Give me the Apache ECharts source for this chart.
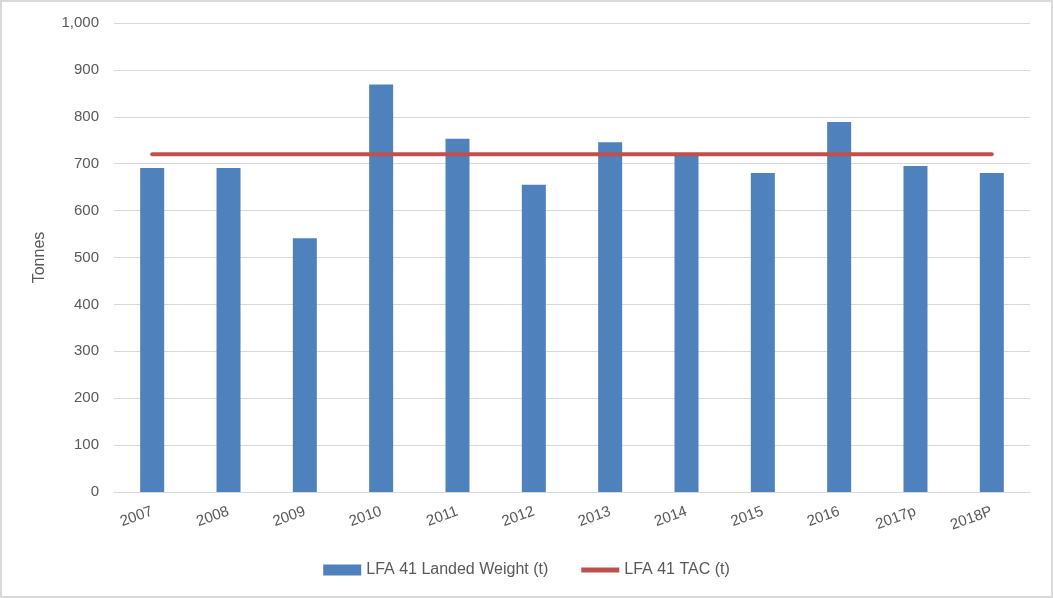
<!DOCTYPE html>
<html><head><meta charset="utf-8">
<script src="https://cdn.jsdelivr.net/npm/echarts@6/dist/echarts.min.js"></script>
<style>html,body{margin:0;padding:0;background:#fff}#c{width:1053px;height:598px;box-sizing:border-box;border:2px solid #d9d9d9}</style>
</head><body><div id="c"></div>
<script>
const categories = ['2007','2008','2009','2010','2011','2012','2013','2014','2015','2016','2017p','2018P'];
const landedWeight = [691, 691, 541, 869, 753, 655, 746, 718, 680, 789, 695, 680];
const tac = [720, 720, 720, 720, 720, 720, 720, 720, 720, 720, 720, 720];
const yTicks = [0, 100, 200, 300, 400, 500, 600, 700, 800, 900, 1000];
const font = "'Liberation Sans', sans-serif";
const chart = echarts.init(document.getElementById('c'), null, {renderer: 'canvas'});
chart.setOption({
  animation: false,
  textStyle: {fontFamily: font},
  grid: {left: 112, right: 21, top: 21, bottom: 104},
  legend: {
    bottom: 13, left: 'center', itemGap: 33, itemWidth: 38, itemHeight: 11,
    textStyle: {color: '#595959', fontSize: 16, fontFamily: font},
    data: [
      {name: 'LFA 41 Landed Weight (t)', icon: 'rect'},
      {name: 'LFA 41 TAC (t)', icon: 'path://M0,0 L40,0 L40,5.5 L0,5.5 Z'}
    ]
  },
  xAxis: {
    type: 'category', data: categories,
    axisLine: {lineStyle: {color: '#d9d9d9', width: 1}},
    axisTick: {show: false},
    axisLabel: {color: '#595959', fontSize: 15, rotate: 20, margin: 19, fontFamily: font}
  },
  yAxis: {
    type: 'value', min: 0, max: 1000, interval: 100,
    name: 'Tonnes', nameLocation: 'middle', nameGap: 66, nameRotate: 90,
    nameTextStyle: {color: '#595959', fontSize: 16, fontFamily: font},
    axisLine: {show: false}, axisTick: {show: false},
    splitLine: {lineStyle: {color: '#d9d9d9', width: 1}},
    axisLabel: {color: '#595959', fontSize: 15, margin: 15, fontFamily: font,
      formatter: v => yTicks.includes(v) ? v.toLocaleString('en-US') : ''}
  },
  series: [
    {name: 'LFA 41 Landed Weight (t)', type: 'bar', data: landedWeight, barWidth: 24,
      itemStyle: {color: '#4f81bd'}},
    {name: 'LFA 41 TAC (t)', type: 'line', data: tac, symbol: 'none',
      lineStyle: {color: '#c0504d', width: 4, cap: 'round'}, itemStyle: {color: '#c0504d'}}
  ]
});
</script></body></html>
